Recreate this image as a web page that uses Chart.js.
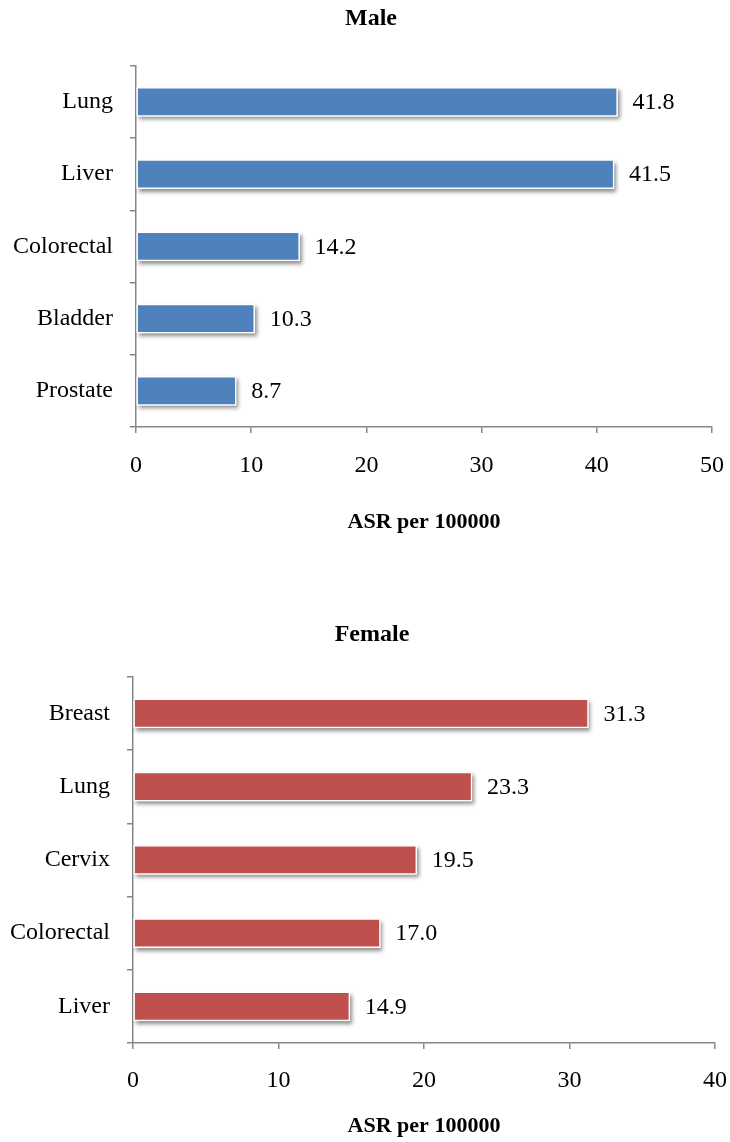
<!DOCTYPE html>
<html>
<head>
<meta charset="utf-8">
<script src="https://cdn.jsdelivr.net/npm/chart.js@4.4.1/dist/chart.umd.min.js"></script>
<style>
    body { margin: 0; background: #fff; overflow: hidden; }
    .box { position: relative; height: 571px; }
    #maleBox { width: 742px; }
    #femaleBox { width: 744px; }
</style>
</head>
<body>
<div class="box" id="maleBox"><canvas id="male"></canvas></div>
<div class="box" id="femaleBox"><canvas id="female"></canvas></div>
<script>
const maleLabels = ["Lung", "Liver", "Colorectal", "Bladder", "Prostate"];
const maleValues = [41.8, 41.5, 14.2, 10.3, 8.7];
const femaleLabels = ["Breast", "Lung", "Cervix", "Colorectal", "Liver"];
const femaleValues = [31.3, 23.3, 19.5, 17.0, 14.9];
const maleTicks = [0, 10, 20, 30, 40, 50];
const femaleTicks = [0, 10, 20, 30, 40];

const serif = "'Liberation Serif', 'Times New Roman', serif";
const axisGray = "#868686";

// white box with soft shadow under each bar
const barShadow = {
    id: "barShadow",
    beforeDatasetsDraw(chart) {
        const c = chart.ctx;
        chart.getDatasetMeta(0).data.forEach((bar) => {
            const p = bar.getProps(["x", "y", "base", "height"], true);
            c.save();
            c.shadowColor = "rgba(0,0,0,0.45)";
            c.shadowBlur = 4;
            c.shadowOffsetX = 2;
            c.shadowOffsetY = 3;
            c.fillStyle = "#fff";
            c.fillRect(p.base, p.y - p.height / 2, p.x - p.base, p.height);
            c.restore();
        });
    },
};

const valueLabels = {
    id: "valueLabels",
    afterDatasetsDraw(chart) {
        const c = chart.ctx;
        const ds = chart.data.datasets[0];
        c.save();
        c.font = "24px " + serif;
        c.fillStyle = "#000";
        c.textAlign = "left";
        c.textBaseline = "middle";
        chart.getDatasetMeta(0).data.forEach((bar, i) => {
            c.fillText(ds.data[i].toFixed(1), bar.x + 15, bar.y + 1);
        });
        c.restore();
    },
};

function makeChart(id, opts) {
    const ticks = opts.ticks;
    return new Chart(document.getElementById(id), {
        type: "bar",
        data: {
            labels: opts.labels,
            datasets: [{
                data: opts.values,
                backgroundColor: opts.color,
                borderColor: "#fff",
                borderWidth: 1.5,
                borderSkipped: false,
                barThickness: 29,
            }],
        },
        options: {
            indexAxis: "y",
            responsive: true,
            maintainAspectRatio: false,
            animation: false,
            layout: { padding: 0 },
            plugins: {
                legend: { display: false },
                tooltip: { enabled: false },
                title: {
                    display: true,
                    text: opts.title,
                    color: "#000",
                    font: { family: serif, size: 24, weight: "bold" },
                    padding: { top: opts.titleTop, bottom: opts.titleBottom },
                },
            },
            scales: {
                x: {
                    min: ticks[0],
                    max: ticks[ticks.length - 1],
                    afterBuildTicks: (s) => { s.ticks = ticks.map((v) => ({ value: v })); },
                    afterFit: (s) => { s.height = opts.xHeight; },
                    grid: { drawOnChartArea: false, tickLength: 6, color: axisGray, lineWidth: 1.5 },
                    border: { color: axisGray, width: 1.5 },
                    ticks: { color: "#000", padding: opts.xPad, font: { family: serif, size: 24 } },
                    title: {
                        display: true,
                        text: "ASR per 100000",
                        color: "#000",
                        font: { family: serif, size: 22, weight: "bold" },
                        padding: { top: opts.axTitlePad, bottom: opts.axTitlePad },
                    },
                },
                y: {
                    afterFit: (s) => { s.width = opts.yWidth; },
                    grid: { drawOnChartArea: false, tickLength: 6, color: axisGray, lineWidth: 1.5 },
                    border: { color: axisGray, width: 1.5 },
                    ticks: { color: "#000", padding: 17, font: { family: serif, size: 24 } },
                },
            },
        },
        plugins: [barShadow, valueLabels],
    });
}

makeChart("male", {
    labels: maleLabels,
    values: maleValues,
    ticks: maleTicks,
    color: "#4F81BD",
    title: "Male",
    titleTop: 4,
    titleBottom: 33,
    xHeight: 144,
    xPad: 18,
    axTitlePad: 35,
    yWidth: 136,
});

makeChart("female", {
    labels: femaleLabels,
    values: femaleValues,
    ticks: femaleTicks,
    color: "#C0504D",
    title: "Female",
    titleTop: 49,
    titleBottom: 28,
    xHeight: 99,
    xPad: 17,
    axTitlePad: 2,
    yWidth: 133,
});
</script>
</body>
</html>
